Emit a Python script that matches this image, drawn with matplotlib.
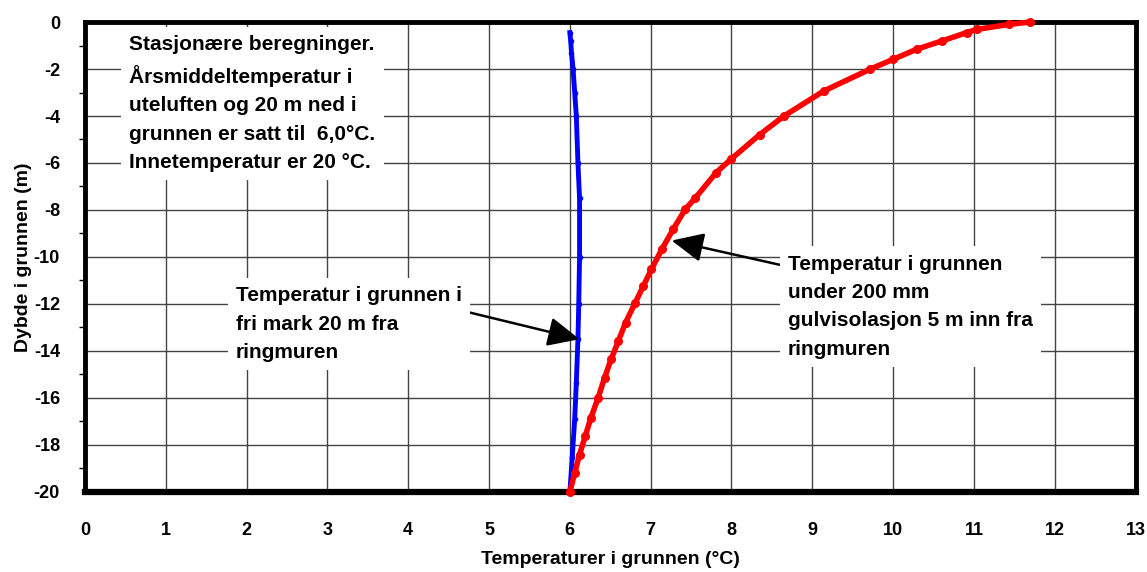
import matplotlib.pyplot as plt

plt.rcParams["font.family"] = ["Liberation Sans", "DejaVu Sans"]
plt.rcParams["font.weight"] = "bold"
plt.rcParams["axes.unicode_minus"] = False

# red: ground under 200 mm floor insulation, 5 m inside the foundation wall
red_temp = [11.69, 11.44, 11.04, 10.91, 10.60, 10.29, 10.00, 9.72, 9.14, 8.65,
            8.35, 8.00, 7.81, 7.55, 7.43, 7.28, 7.14, 7.01, 6.91, 6.81, 6.69,
            6.60, 6.51, 6.43, 6.35, 6.26, 6.19, 6.12, 6.06, 6.00]
red_depth = [0.0, -0.10, -0.31, -0.45, -0.81, -1.16, -1.59, -2.0, -2.94, -4.0,
             -4.79, -5.82, -6.41, -7.5, -7.96, -8.81, -9.66, -10.52, -11.23,
             -11.94, -12.79, -13.58, -14.36, -15.14, -15.99, -16.85, -17.63,
             -18.41, -19.19, -20.0]

# blue: open field, 20 m from the foundation wall
blue_temp = [6.00, 6.01, 6.02, 6.04, 6.06, 6.08, 6.10, 6.12, 6.12, 6.11, 6.10,
             6.08, 6.06, 6.03, 6.00]
blue_depth = [-0.45, -0.8, -1.3, -2.0, -3.0, -4.0, -6.0, -7.5, -10.0, -12.0,
              -13.5, -15.35, -16.9, -18.5, -20.0]

x_ticks = list(range(0, 14))
y_ticks = list(range(-20, 1, 2))

info_text = ("Stasjonære beregninger.\nÅrsmiddeltemperatur i\n"
             "uteluften og 20 m ned i\ngrunnen er satt til  6,0°C.\n"
             "Innetemperatur er 20 °C.")
blue_label = "Temperatur i grunnen i\nfri mark 20 m fra\nringmuren"
red_label = ("Temperatur i grunnen\nunder 200 mm\n"
             "gulvisolasjon 5 m inn fra\nringmuren")

fig = plt.figure(figsize=(11.47, 5.72), dpi=100)
ax = fig.add_axes([0.0741, 0.140, 0.9159, 0.8215])

ax.plot(blue_temp, blue_depth, "-", color="#0000ff", linewidth=3.5,
        marker="o", markersize=3, zorder=4)
ax.plot(red_temp, red_depth, "-", color="#ff0000", linewidth=4,
        marker="o", markersize=5.5, zorder=4, clip_on=False)

ax.set_xlim(0, 13)
ax.set_ylim(-20, 0)
ax.set_xticks(x_ticks)
ax.set_yticks(y_ticks)
ax.set_yticks(range(-19, 0, 2), minor=True)
ax.grid(True, color="#444444", linewidth=1.0, zorder=0)
ax.set_axisbelow(True)

for side in ["left", "right", "top", "bottom"]:
    ax.spines[side].set_linewidth(3.5)
ax.spines["bottom"].set_linewidth(4.5)

ax.tick_params(axis="x", length=0, pad=22, labelsize=13)
ax.tick_params(axis="y", which="major", direction="in", length=0, pad=18,
               labelsize=13)
ax.tick_params(axis="y", which="minor", direction="out", length=4, width=1)
for lbl in ax.get_xticklabels() + ax.get_yticklabels():
    lbl.set_fontweight("bold")

ax.set_xlabel("Temperaturer i grunnen (°C)", fontsize=14, fontweight="bold",
              labelpad=8)
ax.set_ylabel("Dybde i grunnen (m)", fontsize=14, fontweight="bold")
ax.yaxis.set_label_coords(-0.05, 0.5)

box = dict(facecolor="white", edgecolor="none", pad=6)
ax.text(0.55, -0.55, info_text, fontsize=15, fontweight="bold", va="top",
        ha="left", linespacing=1.62, bbox=box, zorder=5)

ax.annotate(blue_label, xy=(6.12, -13.5), xytext=(1.87, -11.25),
            fontsize=15, fontweight="bold", va="top", ha="left",
            linespacing=1.62, bbox=box, zorder=5,
            arrowprops=dict(arrowstyle="-|>,head_length=1.3,head_width=0.6",
                            color="black", linewidth=1.8,
                            relpos=(0.97, 0.7), shrinkA=0, shrinkB=0))
ax.annotate(red_label, xy=(7.26, -9.3), xytext=(8.7, -9.9),
            fontsize=15, fontweight="bold", va="top", ha="left",
            linespacing=1.62, bbox=box, zorder=5,
            arrowprops=dict(arrowstyle="-|>,head_length=1.3,head_width=0.6",
                            color="black", linewidth=1.8,
                            relpos=(-0.03, 0.9), shrinkA=0, shrinkB=0))

fig.savefig("out.png", dpi=100)
